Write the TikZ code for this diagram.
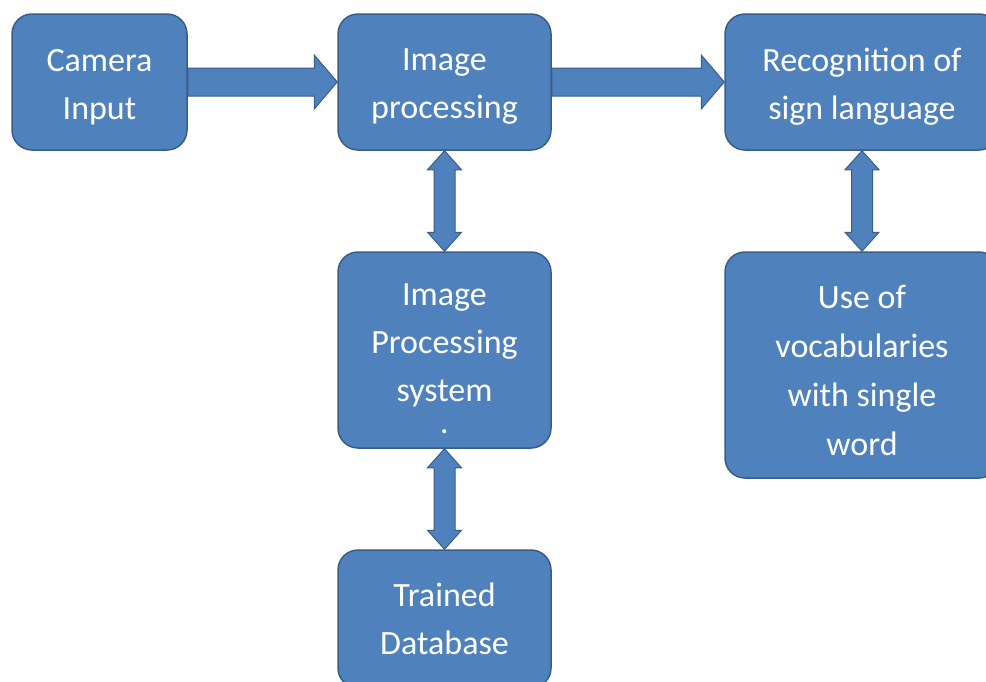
\documentclass[tikz,border=0pt]{standalone}
\usepackage{fontspec}
\setmainfont{Carlito}
\usetikzlibrary{calc}
\definecolor{boxfill}{HTML}{4F81BD}
\definecolor{boxline}{HTML}{385D8A}
\tikzset{
  blk/.style={draw=boxline, line width=1.5pt, fill=boxfill, rounded corners=20pt,
    inner sep=0pt},
  txt/.style={text=white, align=center, inner sep=0pt,
    font=\fontsize{34}{48}\selectfont},
  arr/.style={draw=boxline, line width=1pt, fill=boxfill, line join=miter}
}
\newcommand{\dblarrow}[2]{%
  \draw[arr] (#1.south) -- ++(17,19) -- ++(-6.5,0) -- ($(#2.north)+(10.5,-19)$)
    -- ++(6.5,0) -- (#2.north) -- ++(-17,-19) -- ++(6.5,0)
    -- ($(#1.south)+(-10.5,19)$) -- ++(-6.5,0) -- cycle;}
\begin{document}
\begin{tikzpicture}[x=1pt,y=-1pt]
\useasboundingbox (0,0) rectangle (986,681);
\clip (0,0) rectangle (986,681);
\node[blk, minimum width=175pt, minimum height=136pt,
  label={[txt,yshift=-5pt]center:Camera\\Input}] (cam) at (99.5,82) {};
\node[blk, minimum width=213pt, minimum height=136pt,
  label={[txt,yshift=-5pt]center:Image\\processing}] (ip) at (444.5,82) {};
\node[blk, minimum width=274pt, minimum height=136pt,
  label={[txt,yshift=-5pt]center:Recognition of\\sign language}] (rec) at (862,82) {};
\node[blk, minimum width=213pt, minimum height=196pt,
  label={[txt,yshift=-9pt]center:Image\\Processing\\system\\[-16pt].}] (ips) at (444.5,350) {};
\node[blk, minimum width=274pt, minimum height=226pt,
  label={[txt,yshift=-5pt,font=\fontsize{34}{49}\selectfont]center:Use of\\vocabularies\\with single\\word}] (voc) at (862,365) {};
\node[blk, minimum width=213pt, minimum height=138pt,
  label={[txt]center:Trained\\Database}] (tdb) at (444.5,619) {};
\draw[arr] ($(cam.east)+(0,-14)$) -- ($(ip.west)+(-23,-14)$) -- ($(ip.west)+(-23,-27)$)
  -- (ip.west) -- ($(ip.west)+(-23,27)$) -- ($(ip.west)+(-23,14)$) -- ($(cam.east)+(0,14)$) -- cycle;
\draw[arr] ($(ip.east)+(0,-14)$) -- ($(rec.west)+(-23,-14)$) -- ($(rec.west)+(-23,-27)$)
  -- (rec.west) -- ($(rec.west)+(-23,27)$) -- ($(rec.west)+(-23,14)$) -- ($(ip.east)+(0,14)$) -- cycle;
\dblarrow{ip}{ips}
\dblarrow{ips}{tdb}
\dblarrow{rec}{voc}
\end{tikzpicture}
\end{document}
